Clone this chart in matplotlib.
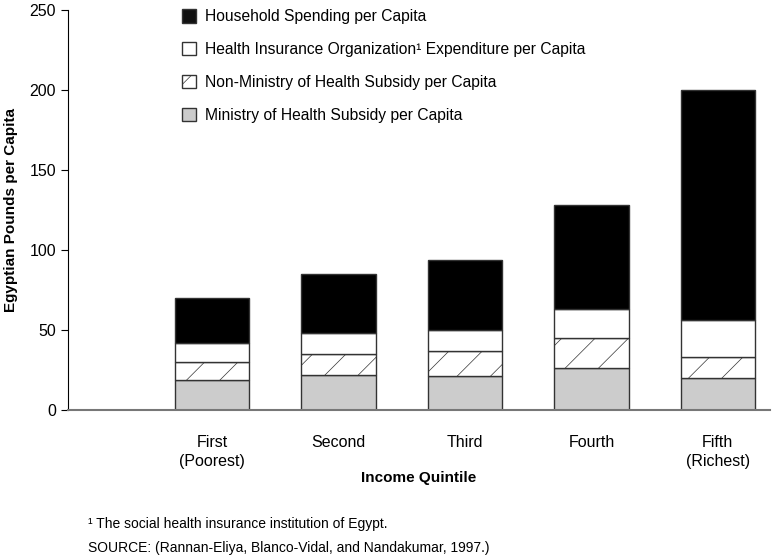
import numpy as np
import matplotlib
matplotlib.use('Agg')
import matplotlib.pyplot as plt
from matplotlib.patches import Patch

plt.rcParams['font.family'] = ['Liberation Sans', 'DejaVu Sans']
plt.rcParams['hatch.linewidth'] = 0.5
plt.rcParams['hatch.color'] = '#777777'

quintiles = ['First\n(Poorest)', 'Second', 'Third', 'Fourth', 'Fifth\n(Richest)']
moh_subsidy = [19, 22, 21.5, 26, 20]
non_moh_subsidy = [11, 13, 15.5, 19, 13]
hio_expenditure = [12, 13, 13, 18, 23]
household = [28, 37, 44, 65, 144]

fig = plt.figure(figsize=(7.79, 5.6), dpi=100)
ax = fig.add_axes([0.0873, 0.268, 0.9007, 0.714])

x = np.arange(len(quintiles))
w = 0.59
b1 = np.array(moh_subsidy)
b2 = b1 + np.array(non_moh_subsidy)
b3 = b2 + np.array(hio_expenditure)

ax.bar(x, moh_subsidy, w, color='#cccccc', edgecolor='#333333', linewidth=1.0)
ax.bar(x, non_moh_subsidy, w, bottom=b1, color='white', edgecolor='#333333',
       linewidth=1.0, hatch='/')
ax.bar(x, hio_expenditure, w, bottom=b2, color='white', edgecolor='#333333', linewidth=1.0)
ax.bar(x, household, w, bottom=b3, color='black', edgecolor='#333333', linewidth=1.0)

ax.set_xlim(-1.14, 4.41)
ax.set_ylim(0, 250)
ax.set_yticks([0, 50, 100, 150, 200, 250])
ax.set_xticks(x)
ax.set_xticklabels(quintiles, fontsize=11.5, linespacing=1.3)
ax.tick_params(axis='x', length=0, pad=18)
ax.tick_params(axis='y', labelsize=11.5, length=5, width=0.8)
ax.spines['top'].set_visible(False)
ax.spines['right'].set_visible(False)
ax.spines['bottom'].set_color('#777777')
ax.spines['bottom'].set_linewidth(1.5)

ax.set_ylabel('Egyptian Pounds per Capita', fontsize=11, fontweight='bold', labelpad=8)
ax.set_xlabel('Income Quintile', fontsize=11, fontweight='bold', labelpad=2)

handles = [
    Patch(facecolor='#111111', edgecolor='#333333', label='Household Spending per Capita'),
    Patch(facecolor='white', edgecolor='#333333',
          label='Health Insurance Organization\u00b9 Expenditure per Capita'),
    Patch(facecolor='white', edgecolor='#333333', hatch='/',
          label='Non-Ministry of Health Subsidy per Capita'),
    Patch(facecolor='#cccccc', edgecolor='#333333', label='Ministry of Health Subsidy per Capita'),
]
leg = ax.legend(handles=handles, loc='upper left', bbox_to_anchor=(0.142, 1.037),
                frameon=False, fontsize=11.25, handlelength=0.92, handleheight=0.92,
                handletextpad=0.6, labelspacing=1.14)

fig.text(0.113, 0.0643, '\u00b9 The social health insurance institution of Egypt.',
         fontsize=10, va='center')
fig.text(0.113, 0.0214, 'SOURCE: (Rannan-Eliya, Blanco-Vidal, and Nandakumar, 1997.)',
         fontsize=10, va='center')

fig.savefig('out.png', dpi=100)
